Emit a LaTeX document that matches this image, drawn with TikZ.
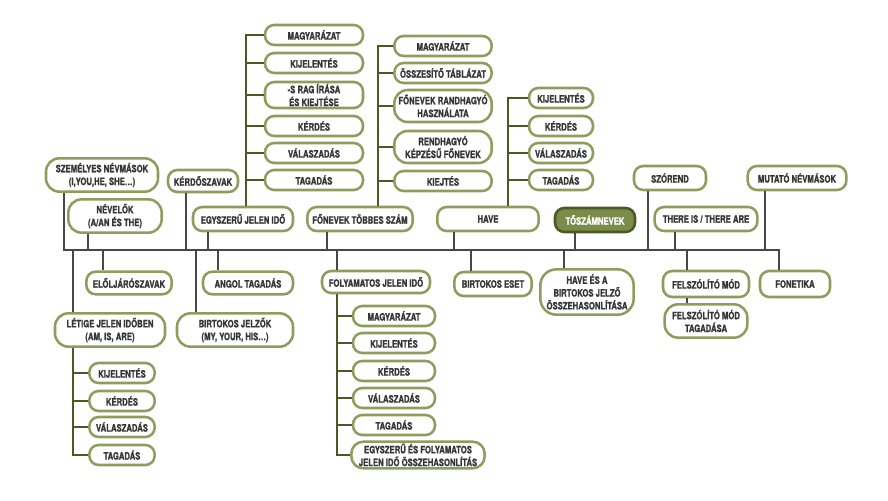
\documentclass[tikz,border=0pt]{standalone}
\usepackage{fontspec}
\usepackage{xcolor}
\usepackage{tikz}
\newfontfamily\mapfont[FakeStretch=0.76, BoldFeatures={FakeBold=1.3}]{TeX Gyre Heros}
\definecolor{rim}{HTML}{8D9D5E}
\definecolor{olive}{HTML}{4B5A22}
\definecolor{trunkgray}{HTML}{474747}
\definecolor{ink}{HTML}{353535}
\definecolor{leaf}{HTML}{7B8B4A}
\tikzset{
  pill/.style={draw=rim, fill=white, line width=1.9pt, rounded corners=7pt, text=ink, align=center,
    inner sep=0pt, minimum height=18pt, font=\mapfont\bfseries\fontsize{7.6pt}{9.6pt}\selectfont},
  subpill/.style={pill, minimum height=15pt},
  tall/.style={minimum height=25pt, rounded corners=10pt},
  hub/.style={pill, fill=leaf, draw=olive, text=white},
  stem/.style={draw=trunkgray, line width=1.5pt},
  branch/.style={draw=olive, line width=1.8pt},
}

\begin{document}
\begin{tikzpicture}[x=0.75pt, y=-0.75pt]
  \useasboundingbox (0,0) rectangle (888,500);

  \node[pill, tall, minimum width=84pt] (szem) at (102,175) {SZEMÉLYES NÉVMÁSOK\\(I,YOU,HE, SHE…)};
  \node[pill, tall, minimum width=70pt] (nev) at (115,216) {NÉVELŐK\\(A/AN ÉS THE)};
  \node[pill, minimum width=52.5pt, minimum height=16.5pt] (kerd) at (203,181) {KÉRDŐSZAVAK};
  \node[pill, minimum width=75pt] (egy) at (243,219) {EGYSZERŰ JELEN IDŐ};
  \node[pill, minimum width=79pt] (fon) at (360,219) {FŐNEVEK TÖBBES SZÁM};
  \node[pill, minimum width=76pt] (have) at (488,219) {HAVE};
  \node[hub, minimum width=60pt] (tosz) at (595,220) {TŐSZÁMNEVEK};
  \node[pill, minimum width=54pt] (szor) at (670,178) {SZÓREND};
  \node[pill, minimum width=77pt] (there) at (706,219) {THERE IS / THERE ARE};
  \node[pill, minimum width=74pt] (mut) at (797,178) {MUTATÓ NÉVMÁSOK};

  \node[pill, minimum width=64pt, minimum height=17pt] (elol) at (129,283) {ELŐLJÁRÓSZAVAK};
  \node[pill, tall, minimum width=82.5pt] (let) at (110,330) {LÉTIGE JELEN IDŐBEN\\(AM, IS, ARE)};
  \node[pill, minimum width=67.5pt, minimum height=17pt] (angol) at (248,283) {ANGOL TAGADÁS};
  \node[pill, tall, minimum width=87pt] (birtj) at (235,330) {BIRTOKOS JELZŐK\\(MY, YOUR, HIS…)};
  \node[pill, minimum width=81pt, minimum height=16.5pt] (foly) at (376,282) {FOLYAMATOS JELEN IDŐ};
  \node[pill, minimum width=58pt] (birte) at (493,284) {BIRTOKOS ESET};
  \node[pill, minimum width=70pt, minimum height=34pt, rounded corners=12pt] (haves) at (587,292) {HAVE ÉS A\\BIRTOKOS JELZŐ\\ÖSSZEHASONLÍTÁSA};
  \node[pill, minimum width=64.5pt, minimum height=19.5pt] (felsz) at (706,284) {FELSZÓLÍTÓ MÓD};
  \node[pill, tall, minimum width=62pt] (felszt) at (706,321) {FELSZÓLÍTÓ MÓD\\TAGADÁSA};
  \node[pill, minimum width=52.5pt, minimum height=19.5pt] (fonet) at (795,284) {FONETIKA};

  \node[subpill, minimum width=73.5pt] (e1) at (314,35) {MAGYARÁZAT};
  \node[subpill, minimum width=73.5pt] (e2) at (314,63) {KIJELENTÉS};
  \node[subpill, minimum width=73.5pt, minimum height=19.5pt] (e3) at (314,95) {-S RAG ÍRÁSA\\ÉS KIEJTÉSE};
  \node[subpill, minimum width=73.5pt] (e4) at (314,126) {KÉRDÉS};
  \node[subpill, minimum width=73.5pt] (e5) at (314,153) {VÁLASZADÁS};
  \node[subpill, minimum width=73.5pt] (e6) at (314,180) {TAGADÁS};

  \node[subpill, minimum width=73pt] (f1) at (443,46) {MAGYARÁZAT};
  \node[subpill, minimum width=73pt] (f2) at (443,73) {ÖSSZESÍTŐ TÁBLÁZAT};
  \node[subpill, minimum width=73pt, minimum height=24pt, rounded corners=10pt] (f3) at (443,106) {FŐNEVEK RANDHAGYÓ\\HASZNÁLATA};
  \node[subpill, minimum width=73pt, minimum height=24pt, rounded corners=10pt] (f4) at (443,147) {RENDHAGYÓ\\KÉPZÉSŰ FŐNEVEK};
  \node[subpill, minimum width=73pt] (f5) at (443,181) {KIEJTÉS};

  \node[subpill, minimum width=48pt] (h1) at (561,98) {KIJELENTÉS};
  \node[subpill, minimum width=48pt] (h2) at (561,126) {KÉRDÉS};
  \node[subpill, minimum width=48pt] (h3) at (561,153) {VÁLASZADÁS};
  \node[subpill, minimum width=48pt] (h4) at (561,180) {TAGADÁS};

  \node[subpill, minimum width=49pt] (l1) at (122,373) {KIJELENTÉS};
  \node[subpill, minimum width=49pt] (l2) at (122,401) {KÉRDÉS};
  \node[subpill, minimum width=49pt] (l3) at (122,427) {VÁLASZADÁS};
  \node[subpill, minimum width=49pt] (l4) at (122,455) {TAGADÁS};

  \node[subpill, minimum width=61.5pt] (y1) at (394,316) {MAGYARÁZAT};
  \node[subpill, minimum width=61.5pt] (y2) at (394,343) {KIJELENTÉS};
  \node[subpill, minimum width=61.5pt] (y3) at (394,371) {KÉRDÉS};
  \node[subpill, minimum width=61.5pt] (y4) at (394,398) {VÁLASZADÁS};
  \node[subpill, minimum width=61.5pt] (y5) at (394,425) {TAGADÁS};
  \node[subpill, minimum width=100pt, minimum height=20pt, rounded corners=9pt] (y6) at (418,455) {EGYSZERŰ ÉS FOLYAMATOS\\JELEN IDŐ ÖSSZEHASONLÍTÁS};

  \coordinate (t-szem) at (64,250);
  \coordinate (t-nev) at (88,250);
  \coordinate (t-kerd) at (186,250);
  \coordinate (t-egy) at (208,250);
  \coordinate (t-fon) at (327,250);
  \coordinate (t-have) at (454,250);
  \coordinate (t-tosz) at (575,250);
  \coordinate (t-szor) at (648,250);
  \coordinate (t-there) at (675,250);
  \coordinate (t-mut) at (765,250);
  \coordinate (t-let) at (73,250);
  \coordinate (t-elol) at (103,250);
  \coordinate (t-birtj) at (196,250);
  \coordinate (t-angol) at (218,250);
  \coordinate (t-foly) at (337,250);
  \coordinate (t-birte) at (471,250);
  \coordinate (t-haves) at (564,250);
  \coordinate (t-felsz) at (687,250);
  \coordinate (t-fonet) at (779,250);
  \coordinate (eb) at (246,0);
  \coordinate (fb) at (378,0);
  \coordinate (hb) at (508,0);

  \draw[stem, line cap=rect] (t-szem) -- (t-fonet);
  \draw[stem] (t-szem) -- (szem.south -| t-szem);
  \draw[stem] (t-nev) -- (nev.south -| t-nev);
  \draw[stem] (t-kerd) -- (kerd.south -| t-kerd);
  \draw[stem] (t-egy) -- (egy.south -| t-egy);
  \draw[stem] (t-fon) -- (fon.south -| t-fon);
  \draw[stem] (t-have) -- (have.south -| t-have);
  \draw[stem] (t-tosz) -- (tosz.south -| t-tosz);
  \draw[stem] (t-szor) -- (szor.south -| t-szor);
  \draw[stem] (t-there) -- (there.south -| t-there);
  \draw[stem] (t-mut) -- (mut.south -| t-mut);
  \draw[stem] (t-let) -- (let.north -| t-let);
  \draw[stem] (t-elol) -- (elol.north -| t-elol);
  \draw[stem] (t-birtj) -- (birtj.north -| t-birtj);
  \draw[stem] (t-angol) -- (angol.north -| t-angol);
  \draw[stem] (t-foly) -- (foly.north -| t-foly);
  \draw[stem] (t-birte) -- (birte.north -| t-birte);
  \draw[stem] (t-haves) -- (haves.north -| t-haves);
  \draw[stem] (t-felsz) -- (felsz.north -| t-felsz);
  \draw[stem] (t-fonet) -- (fonet.north -| t-fonet);
  \draw[stem] (felsz.south -| t-felsz) -- (felszt.north -| t-felsz);

  \draw[branch] (egy.north -| eb) |- (e1.west);
  \draw[branch] (e2.west) -- (e2.west -| eb);
  \draw[branch] (e3.west) -- (e3.west -| eb);
  \draw[branch] (e4.west) -- (e4.west -| eb);
  \draw[branch] (e5.west) -- (e5.west -| eb);
  \draw[branch] (e6.west) -- (e6.west -| eb);

  \draw[branch] (fon.north -| fb) |- (f1.west);
  \draw[branch] (f2.west) -- (f2.west -| fb);
  \draw[branch] (f3.west) -- (f3.west -| fb);
  \draw[branch] (f4.west) -- (f4.west -| fb);
  \draw[branch] (f5.west) -- (f5.west -| fb);

  \draw[branch] (have.north -| hb) |- (h1.west);
  \draw[branch] (h2.west) -- (h2.west -| hb);
  \draw[branch] (h3.west) -- (h3.west -| hb);
  \draw[branch] (h4.west) -- (h4.west -| hb);

  \draw[branch] (let.south -| t-let) |- (l4.west);
  \draw[branch] (l1.west) -- (l1.west -| t-let);
  \draw[branch] (l2.west) -- (l2.west -| t-let);
  \draw[branch] (l3.west) -- (l3.west -| t-let);

  \draw[branch] (foly.south -| t-foly) |- (y6.west);
  \draw[branch] (y1.west) -- (y1.west -| t-foly);
  \draw[branch] (y2.west) -- (y2.west -| t-foly);
  \draw[branch] (y3.west) -- (y3.west -| t-foly);
  \draw[branch] (y4.west) -- (y4.west -| t-foly);
  \draw[branch] (y5.west) -- (y5.west -| t-foly);
\end{tikzpicture}
\end{document}
